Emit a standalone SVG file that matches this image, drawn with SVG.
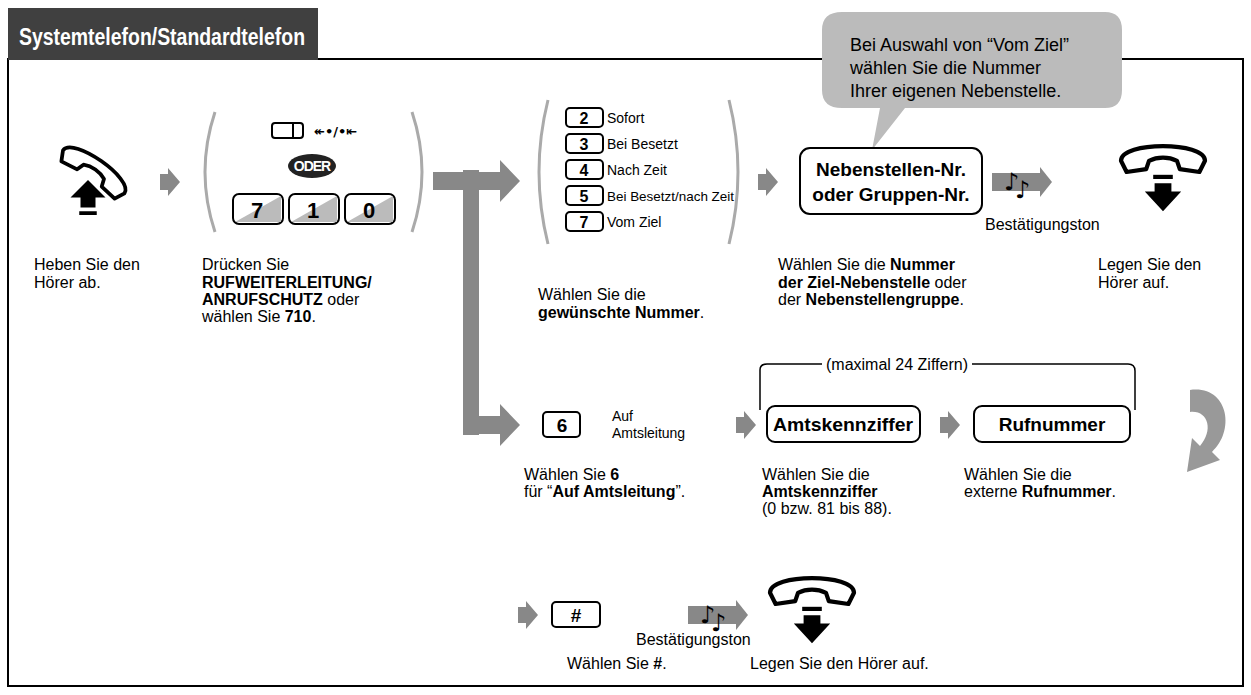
<svg xmlns="http://www.w3.org/2000/svg" width="1251" height="695" viewBox="0 0 1251 695">
<style>
text{font-family:"Liberation Sans",Arial,sans-serif;fill:#000}
.t{font-size:16px}
.b{font-weight:bold}
.o{font-size:14px}
.k{fill:#fff;stroke:#000;stroke-width:2}
.kn{font-size:19px;font-weight:bold;text-anchor:middle}
.par{fill:none;stroke:#aaa;stroke-width:3}
</style>
<defs>
<path id="sa" d="M-8,-8 H0 V-14 L12,0 L0,14 V8 H-8Z" fill="#888"/>
<g id="hu">
<path d="M-30,-8 C-30,-22 30,-22 30,-8 L26,0 L12,-2 L10,-8 C4,-11 -4,-11 -10,-8 L-12,-2 L-26,0 Z" fill="#fff" stroke="#000" stroke-width="3" stroke-linejoin="round"/>
<rect x="-7" y="2" width="14" height="3" fill="#000"/>
<path d="M-6,8 h12 v6 h7 l-13,14 l-13,-14 h7z" fill="#000"/>
</g>
<g id="note"><rect x="-24" y="-9" width="48" height="18" fill="#888"/><path d="M24,-15 L36,0 L24,15Z" fill="#888"/>
<text x="-12" y="8" style="font-size:24px;font-family:'DejaVu Sans',sans-serif">♪</text><text x="-1" y="16" style="font-size:24px;font-family:'DejaVu Sans',sans-serif">♪</text></g>
</defs>
<rect x="8" y="59" width="1235" height="627" fill="#fff" stroke="#000" stroke-width="2"/>
<rect x="8" y="8" width="310" height="52" fill="#404040"/>
<text x="19" y="45" textLength="286" lengthAdjust="spacingAndGlyphs" style="font-size:24px;font-weight:bold;fill:#fff">Systemtelefon/Standardtelefon</text>

<g id="connectors">
<rect x="463" y="170" width="16" height="265" fill="#888"/>
<path d="M433,172 H500 V160 L520,181 L500,202 V190 H433Z" fill="#888"/>
<path d="M463,416 H500 V404 L520,425 L500,446 V434 H463Z" fill="#888"/>
<use href="#sa" x="168" y="182"/>
<use href="#sa" x="766" y="182"/>
<use href="#sa" x="744" y="425"/>
<use href="#sa" x="948" y="425"/>
<use href="#sa" x="526" y="615"/>
<use href="#note" x="1016" y="182"/>
<use href="#note" x="712" y="615"/>
<path d="M1190,390 C1228,385 1236,430 1212,452 L1220,460 L1187,472 L1192,438 L1200,446 C1214,430 1208,410 1190,412Z" fill="#999"/>
<path d="M760,410 V370 Q760,364 767,364 H822 M972,364 H1128 Q1135,364 1135,371 V410" fill="none" stroke="#000" stroke-width="1.5"/>
</g>
<text x="826" y="370" class="t">(maximal 24 Ziffern)</text>

<g id="bubble">
<path d="M842,12 H1105 Q1122,12 1122,30 V90 Q1122,108 1105,108 H905 L872,150 L880,108 H842 Q822,108 822,90 V30 Q822,12 842,12Z" fill="#bbb"/>
<text x="850" y="51" style="font-size:18px">Bei Auswahl von “Vom Ziel”</text>
<text x="850" y="74" style="font-size:18px">wählen Sie die Nummer</text>
<text x="850" y="97" style="font-size:18px">Ihrer eigenen Nebenstelle.</text>
</g>

<g id="offhook" transform="translate(88,180) scale(1.25)">
<g transform="rotate(35)">
<path d="M-30,-8 C-30,-22 30,-22 30,-8 L26,0 L12,-2 L10,-8 C4,-11 -4,-11 -10,-8 L-12,-2 L-26,0 Z" fill="#fff" stroke="#000" stroke-width="3" stroke-linejoin="round"/>
</g>
<path d="M-6,22 h12 v-8 h8 l-14,-14 l-14,14 h8z" fill="#000"/>
<rect x="-7" y="25" width="14" height="3"/>
</g>
<text x="34" y="270" class="t">Heben Sie den</text>
<text x="34" y="288" class="t">Hörer ab.</text>

<g id="n710">
<path class="par" d="M215,112 Q195,172 215,232"/>
<path class="par" d="M412,112 Q432,172 412,232"/>
<rect x="272" y="123" width="31" height="15" rx="3" fill="#fff" stroke="#000" stroke-width="2"/>
<line x1="293" y1="123" x2="293" y2="138" stroke="#000" stroke-width="2"/>
<text x="314" y="136" style="font-size:13px;font-family:'DejaVu Sans',sans-serif;font-weight:bold">↞•/•⇤</text>
<ellipse cx="312" cy="166" rx="24" ry="12" fill="#222"/>
<text x="312" y="171" style="font-size:14px;font-weight:bold;fill:#fff;text-anchor:middle;letter-spacing:-1px">ODER</text>
<rect class="k" x="233" y="194" width="50" height="30" rx="6"/><path d="M235,222 L281,196 V222Z" fill="#bbb"/><text class="kn" x="257" y="218" style="font-size:22px">7</text>
<rect class="k" x="289" y="194" width="50" height="30" rx="6"/><path d="M291,222 L337,196 V222Z" fill="#bbb"/><text class="kn" x="313" y="218" style="font-size:22px">1</text>
<rect class="k" x="345" y="194" width="50" height="30" rx="6"/><path d="M347,222 L393,196 V222Z" fill="#bbb"/><text class="kn" x="369" y="218" style="font-size:22px">0</text>
</g>
<text x="202" y="270" class="t">Drücken Sie</text>
<text x="202" y="288" class="t b">RUFWEITERLEITUNG/</text>
<text x="202" y="305" class="t"><tspan class="b">ANRUFSCHUTZ</tspan> oder</text>
<text x="202" y="322" class="t">wählen Sie <tspan class="b">710</tspan>.</text>

<g id="options">
<path class="par" d="M548,100 Q530,172 548,244"/>
<path class="par" d="M729,100 Q747,172 729,244"/>
<rect x="566" y="108" width="37" height="19" rx="4" fill="#fff" stroke="#000" stroke-width="2"/><text x="584" y="124" class="kn" style="font-size:16px">2</text><text x="607" y="123" class="o">Sofort</text>
<rect x="566" y="134" width="37" height="19" rx="4" fill="#fff" stroke="#000" stroke-width="2"/><text x="584" y="150" class="kn" style="font-size:16px">3</text><text x="607" y="149" class="o">Bei Besetzt</text>
<rect x="566" y="160" width="37" height="19" rx="4" fill="#fff" stroke="#000" stroke-width="2"/><text x="584" y="176" class="kn" style="font-size:16px">4</text><text x="607" y="175" class="o">Nach Zeit</text>
<rect x="566" y="186" width="37" height="19" rx="4" fill="#fff" stroke="#000" stroke-width="2"/><text x="584" y="202" class="kn" style="font-size:16px">5</text><text x="607" y="201" textLength="127" lengthAdjust="spacingAndGlyphs" style="font-size:13px">Bei Besetzt/nach Zeit</text>
<rect x="566" y="212" width="37" height="19" rx="4" fill="#fff" stroke="#000" stroke-width="2"/><text x="584" y="228" class="kn" style="font-size:16px">7</text><text x="607" y="227" class="o">Vom Ziel</text>
</g>
<text x="538" y="300" class="t">Wählen Sie die</text>
<text x="538" y="318" class="t"><tspan class="b">gewünschte Nummer</tspan>.</text>

<g id="extnr">
<rect x="800" y="148" width="182" height="66" rx="10" fill="#fff" stroke="#000" stroke-width="2"/>
<text x="891" y="176" class="kn" style="font-size:19px">Nebenstellen-Nr.</text>
<text x="891" y="201" class="kn" style="font-size:19px">oder Gruppen-Nr.</text>
</g>
<text x="985" y="230" class="t">Bestätigungston</text>
<text x="778" y="270" class="t">Wählen Sie die <tspan class="b">Nummer</tspan></text>
<text x="778" y="288" class="t"><tspan class="b">der Ziel-Nebenstelle</tspan> oder</text>
<text x="778" y="305" class="t">der <tspan class="b">Nebenstellengruppe</tspan>.</text>

<g id="onhook1" transform="translate(1163,172) scale(1.4)"><use href="#hu"/></g>
<text x="1098" y="270" class="t">Legen Sie den</text>
<text x="1098" y="288" class="t">Hörer auf.</text>

<g id="k6">
<rect x="543" y="412" width="37" height="25" rx="4" fill="#fff" stroke="#000" stroke-width="2"/>
<text x="562" y="432" class="kn">6</text>
<text x="612" y="421" style="font-size:14px">Auf</text>
<text x="612" y="438" style="font-size:14px">Amtsleitung</text>
</g>
<text x="524" y="480" class="t">Wählen Sie <tspan class="b">6</tspan></text>
<text x="524" y="497" class="t">für “<tspan class="b">Auf Amtsleitung</tspan>”.</text>

<g id="amts">
<rect x="767" y="406" width="153" height="36" rx="8" fill="#fff" stroke="#000" stroke-width="2"/>
<text x="843" y="431" class="kn" textLength="140" lengthAdjust="spacingAndGlyphs">Amtskennziffer</text>
</g>
<text x="762" y="480" class="t">Wählen Sie die</text>
<text x="762" y="497" class="t b">Amtskennziffer</text>
<text x="762" y="514" class="t">(0 bzw. 81 bis 88).</text>

<g id="rufnr">
<rect x="974" y="406" width="156" height="36" rx="8" fill="#fff" stroke="#000" stroke-width="2"/>
<text x="1052" y="431" class="kn">Rufnummer</text>
</g>
<text x="964" y="480" class="t">Wählen Sie die</text>
<text x="964" y="497" class="t">externe <tspan class="b">Rufnummer</tspan>.</text>

<g id="hash">
<rect x="552" y="602" width="48" height="25" rx="4" fill="#fff" stroke="#000" stroke-width="2"/>
<text x="576" y="622" class="kn">#</text>
</g>
<text x="636" y="645" class="t">Bestätigungston</text>
<g id="onhook2" transform="translate(812,604) scale(1.4)"><use href="#hu"/></g>
<text x="567" y="669" class="t">Wählen Sie <tspan class="b">#</tspan>.</text>
<text x="750" y="669" class="t">Legen Sie den Hörer auf.</text>
</svg>
